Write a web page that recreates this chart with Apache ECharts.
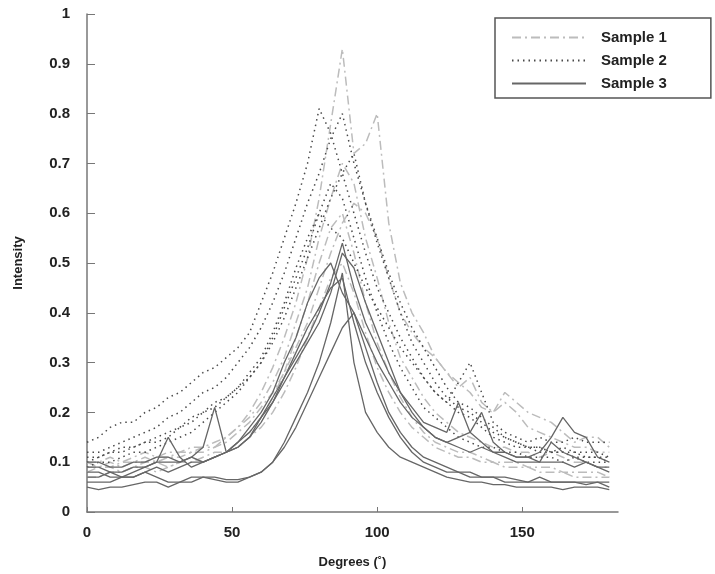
<!DOCTYPE html>
<html>
<head>
<meta charset="utf-8">
<script src="https://cdn.jsdelivr.net/npm/echarts@6/dist/echarts.min.js"></script>
<style>
  html, body { margin: 0; padding: 0; background: #fff; }
  #chart { width: 715px; height: 574px; }
</style>
</head>
<body>
<div id="chart"></div>
<script>
// degrees along the x axis (shared by all curves)
var degrees = [0,4,8,12,16,20,24,28,32,36,40,44,48,52,56,60,64,68,72,76,80,84,88,92,96,100,104,108,112,116,120,124,128,132,136,140,144,148,152,156,160,164,168,172,176,180];
var xTicks = [0, 50, 100, 150];

// Sample 1 (light dash-dot)
var s1a = [0.09,0.09,0.10,0.09,0.10,0.10,0.11,0.11,0.12,0.12, 0.13,0.13,0.15,0.17,0.20,0.24,0.29,0.35,0.42,0.51, 0.63,0.78,0.93,0.72,0.74,0.80,0.58,0.46,0.40,0.36, 0.31,0.28,0.25,0.27,0.22,0.20,0.24,0.22,0.20,0.19, 0.18,0.16,0.14,0.15,0.15,0.13];
var s1b = [0.10,0.10,0.11,0.10,0.11,0.12,0.11,0.12,0.12,0.13, 0.13,0.14,0.15,0.17,0.19,0.22,0.26,0.31,0.38,0.45, 0.55,0.63,0.70,0.66,0.55,0.47,0.38,0.31,0.27,0.23, 0.20,0.18,0.16,0.15,0.14,0.13,0.13,0.12,0.12,0.11, 0.12,0.11,0.10,0.10,0.09,0.09];
var s1c = [0.07,0.07,0.08,0.08,0.09,0.09,0.08,0.09,0.10,0.10, 0.11,0.12,0.12,0.14,0.16,0.19,0.23,0.28,0.35,0.42, 0.50,0.57,0.60,0.52,0.42,0.34,0.28,0.23,0.19,0.16, 0.14,0.13,0.12,0.12,0.11,0.10,0.10,0.10,0.09,0.09, 0.09,0.08,0.08,0.08,0.08,0.07];
var s1d = [0.08,0.09,0.09,0.10,0.10,0.11,0.10,0.11,0.11,0.12, 0.12,0.13,0.14,0.16,0.18,0.21,0.24,0.28,0.33,0.38, 0.45,0.52,0.58,0.62,0.60,0.55,0.47,0.40,0.36,0.33, 0.31,0.28,0.26,0.24,0.21,0.20,0.22,0.20,0.17,0.16, 0.15,0.14,0.13,0.13,0.12,0.12];
var s1e = [0.10,0.09,0.09,0.08,0.09,0.10,0.10,0.09,0.10,0.11, 0.10,0.11,0.12,0.13,0.15,0.17,0.20,0.24,0.29,0.35, 0.41,0.47,0.50,0.44,0.36,0.29,0.24,0.20,0.17,0.15, 0.13,0.12,0.11,0.11,0.10,0.10,0.09,0.09,0.09,0.08, 0.08,0.08,0.07,0.07,0.07,0.07];

// Sample 2 (dotted)
var s2a = [0.14,0.15,0.17,0.18,0.18,0.20,0.21,0.23,0.24,0.26, 0.28,0.29,0.31,0.33,0.36,0.42,0.48,0.55,0.62,0.70, 0.81,0.76,0.68,0.60,0.52,0.45,0.40,0.35,0.31,0.27, 0.24,0.22,0.26,0.30,0.24,0.18,0.16,0.15,0.14,0.15, 0.14,0.14,0.15,0.14,0.14,0.14];
var s2b = [0.12,0.12,0.13,0.14,0.15,0.16,0.17,0.19,0.20,0.22, 0.24,0.25,0.27,0.30,0.33,0.37,0.42,0.48,0.55,0.62, 0.68,0.75,0.80,0.70,0.62,0.54,0.47,0.40,0.34,0.30, 0.26,0.23,0.21,0.20,0.18,0.16,0.15,0.14,0.13,0.13, 0.12,0.13,0.12,0.12,0.12,0.11];
var s2c = [0.10,0.11,0.12,0.12,0.13,0.14,0.14,0.15,0.17,0.18, 0.20,0.21,0.23,0.25,0.28,0.31,0.36,0.42,0.49,0.55, 0.60,0.66,0.63,0.55,0.47,0.40,0.34,0.29,0.25,0.21, 0.19,0.17,0.15,0.14,0.13,0.13,0.12,0.12,0.11,0.11, 0.11,0.10,0.11,0.10,0.10,0.10];
var s2d = [0.09,0.10,0.10,0.11,0.12,0.12,0.13,0.14,0.15,0.16, 0.18,0.20,0.22,0.24,0.27,0.30,0.35,0.41,0.47,0.53, 0.60,0.57,0.55,0.50,0.45,0.41,0.37,0.33,0.30,0.27, 0.24,0.22,0.20,0.19,0.17,0.15,0.14,0.13,0.13,0.12, 0.12,0.12,0.11,0.11,0.11,0.10];
var s2e = [0.11,0.11,0.12,0.13,0.13,0.14,0.15,0.16,0.17,0.19, 0.20,0.22,0.23,0.25,0.27,0.30,0.34,0.39,0.45,0.51, 0.57,0.63,0.68,0.72,0.62,0.55,0.48,0.42,0.37,0.33, 0.29,0.25,0.22,0.21,0.19,0.17,0.15,0.14,0.13,0.13, 0.12,0.12,0.12,0.11,0.11,0.11];

// Sample 3 (solid)
var s3a = [0.10,0.10,0.09,0.09,0.10,0.10,0.11,0.11,0.10,0.11, 0.13,0.21,0.12,0.13,0.15,0.19,0.22,0.27,0.31,0.35, 0.40,0.46,0.54,0.45,0.38,0.33,0.28,0.24,0.21,0.18, 0.17,0.16,0.22,0.16,0.14,0.12,0.12,0.11,0.11,0.10, 0.10,0.10,0.09,0.10,0.09,0.09];
var s3b = [0.08,0.08,0.07,0.07,0.08,0.09,0.10,0.15,0.11,0.09, 0.10,0.11,0.12,0.14,0.17,0.20,0.24,0.30,0.35,0.42, 0.47,0.50,0.44,0.40,0.35,0.30,0.26,0.22,0.19,0.17, 0.15,0.14,0.15,0.16,0.20,0.14,0.12,0.11,0.11,0.12, 0.15,0.19,0.16,0.15,0.11,0.10];
var s3c = [0.05,0.045,0.05,0.05,0.055,0.06,0.06,0.05,0.06,0.06, 0.07,0.07,0.065,0.065,0.07,0.08,0.10,0.14,0.19,0.24, 0.30,0.38,0.48,0.30,0.20,0.16,0.13,0.11,0.10,0.09, 0.08,0.07,0.065,0.06,0.06,0.055,0.055,0.05,0.05,0.05, 0.05,0.045,0.05,0.05,0.05,0.045];
var s3d = [0.07,0.07,0.08,0.07,0.07,0.08,0.09,0.08,0.09,0.10, 0.10,0.11,0.12,0.14,0.16,0.19,0.23,0.27,0.32,0.37, 0.41,0.45,0.47,0.38,0.30,0.24,0.19,0.15,0.12,0.10, 0.09,0.08,0.08,0.07,0.07,0.07,0.06,0.06,0.06,0.07, 0.06,0.06,0.06,0.06,0.06,0.05];
var s3e = [0.09,0.09,0.08,0.08,0.09,0.09,0.10,0.10,0.10,0.11, 0.10,0.11,0.12,0.13,0.15,0.18,0.22,0.26,0.30,0.34, 0.38,0.44,0.52,0.49,0.42,0.36,0.30,0.24,0.20,0.17, 0.15,0.14,0.13,0.12,0.13,0.12,0.11,0.10,0.10,0.10, 0.14,0.12,0.11,0.10,0.09,0.08];
var s3f = [0.06,0.06,0.06,0.07,0.07,0.08,0.07,0.06,0.06,0.07, 0.07,0.065,0.06,0.06,0.07,0.08,0.10,0.13,0.17,0.22, 0.27,0.32,0.37,0.40,0.33,0.26,0.20,0.16,0.13,0.11, 0.10,0.09,0.08,0.08,0.07,0.07,0.07,0.065,0.06,0.06, 0.06,0.06,0.06,0.055,0.06,0.06];

var styles = {
    'Sample 1': { color: '#bcbcbc', width: 1.5, type: [9, 4, 2, 4] },
    'Sample 2': { color: '#4a4a4a', width: 1.5, type: [1.5, 4] },
    'Sample 3': { color: '#666666', width: 1.3, type: 'solid' }
};

function mkSeries(name, vals) {
    var st = styles[name];
    return {
        name: name,
        type: 'line',
        symbol: 'none',
        animation: false,
        itemStyle: { color: st.color },
        lineStyle: { color: st.color, width: st.width, type: st.type },
        data: degrees.map(function (d, i) { return [d, vals[i]]; })
    };
}

var series = [
    mkSeries('Sample 1', s1a), mkSeries('Sample 1', s1b), mkSeries('Sample 1', s1c),
    mkSeries('Sample 1', s1d), mkSeries('Sample 1', s1e),
    mkSeries('Sample 2', s2a), mkSeries('Sample 2', s2b), mkSeries('Sample 2', s2c),
    mkSeries('Sample 2', s2d), mkSeries('Sample 2', s2e),
    mkSeries('Sample 3', s3a), mkSeries('Sample 3', s3b), mkSeries('Sample 3', s3c),
    mkSeries('Sample 3', s3d), mkSeries('Sample 3', s3e), mkSeries('Sample 3', s3f)
];

var labelFont = { fontFamily: 'Liberation Sans', fontWeight: 'bold', fontSize: 15, color: '#222' };

var myChart = echarts.init(document.getElementById('chart'));
var option = {
    backgroundColor: '#fff',
    animation: false,
    grid: { left: 87, right: 97, top: 14, bottom: 62 },
    legend: {
        data: ['Sample 1', 'Sample 2', 'Sample 3'],
        orient: 'vertical',
        left: 495,
        top: 18,
        itemWidth: 74,
        itemHeight: 14,
        itemGap: 8,
        padding: [12, 44, 7, 16],
        borderColor: '#555',
        borderWidth: 1.5,
        backgroundColor: '#fff',
        selectedMode: false,
        itemStyle: { opacity: 0 },
        textStyle: { fontFamily: 'Liberation Sans', fontWeight: 'bold', fontSize: 15, color: '#222', padding: [0, 0, 0, 10] }
    },
    xAxis: {
        type: 'value',
        min: 0,
        max: 183,
        name: 'Degrees (˚)',
        nameLocation: 'middle',
        nameGap: 44,
        nameTextStyle: { fontFamily: 'Liberation Sans', fontWeight: 'bold', fontSize: 13, color: '#222' },
        axisLine: { lineStyle: { color: '#777', width: 1.5 } },
        axisTick: { inside: true, length: 5, customValues: xTicks, lineStyle: { color: '#777' } },
        axisLabel: Object.assign({ margin: 13, customValues: xTicks }, labelFont),
        splitLine: { show: false }
    },
    yAxis: {
        type: 'value',
        min: 0,
        max: 1,
        interval: 0.1,
        name: 'Intensity',
        nameLocation: 'middle',
        nameGap: 62,
        nameTextStyle: { fontFamily: 'Liberation Sans', fontWeight: 'bold', fontSize: 13, color: '#222' },
        axisLine: { show: true, lineStyle: { color: '#777', width: 1.5 } },
        axisTick: { show: true, inside: true, length: 8, lineStyle: { color: '#777' } },
        axisLabel: Object.assign({ margin: 17 }, labelFont),
        splitLine: { show: false }
    },
    series: series
};
myChart.setOption(option);
</script>
</body>
</html>
